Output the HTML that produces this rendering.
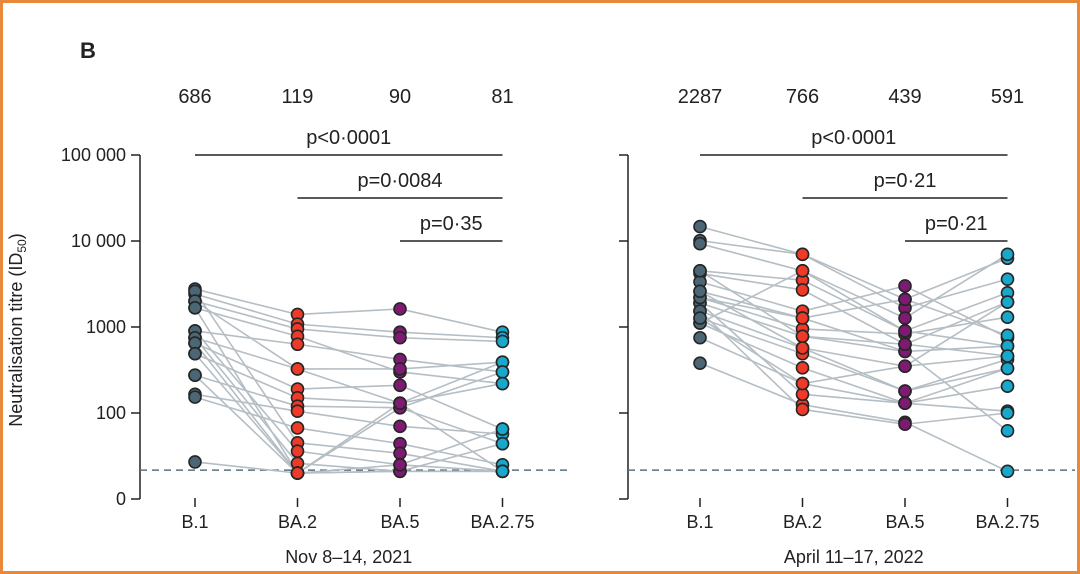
<!DOCTYPE html>
<html><head><meta charset="utf-8"><style>
html,body{margin:0;padding:0;background:#fff;}
svg{display:block;font-family:"Liberation Sans",sans-serif;}
</style></head><body>
<svg id="chart" width="1080" height="574" viewBox="0 0 1080 574">
<rect x="1.5" y="1.5" width="1077" height="571" fill="#fff" stroke="#e8883a" stroke-width="3"/>
<text x="80" y="58" font-size="22" font-weight="bold" fill="#222">B</text>
<text transform="translate(22,330) rotate(-90)" text-anchor="middle" font-size="18" fill="#222">Neutralisation titre (ID<tspan font-size="12" dy="4">50</tspan><tspan dy="-4">)</tspan></text>
<g id="g"></g>
</svg>
<script>
const variants = ["B.1","BA.2","BA.5","BA.2.75"];
const colors = ["#4b6674","#ee3a28","#7d1a72","#18a8cc"];
const panelTitles = ["Nov 8–14, 2021","April 11–17, 2022"];
const medians1 = ["686","119","90","81"];
const medians2 = ["2287","766","439","591"];
const yTickValues = [100000,10000,1000,100,10];
const yTickLabels = ["100 000","10 000","1000","100","0"];
const pLabels1 = ["p<0·0001","p=0·0084","p=0·35"];
const pLabels2 = ["p<0·0001","p=0·21","p=0·21"];
const pFrom = [0,1,2];
const limitValue = 20;
const nov2021 = [
[2760,1400,1620,870],[2420,1080,870,750],[2000,950,750,680],[1670,780,300,220],
[900,630,420,300],[750,325,325,390],[650,190,210,65],[490,150,130,390],
[275,120,115,44],[165,105,70,57],[153,67,44,25],[27,20,21,21],
[2600,45,34,21],[900,36,25,65],[750,26,21,21],[650,20,115,300],
[490,20,21,44],[275,20,25,21],[2000,325,130,21],[1670,20,130,220]];
const apr2022 = [
[14700,7000,1670,3600],[10100,7000,2100,6300],[9300,4500,1270,7000],[4500,3500,900,2500],
[4200,2700,630,1950],[3350,1530,3000,750],[2600,1270,2100,800],[2200,950,830,1300],
[1900,780,520,600],[1530,570,350,460],[1270,490,180,420],[1110,335,130,330],
[750,220,130,205],[380,125,78,21],[1900,165,130,105],[1530,110,74,100],
[2200,1270,520,62],[1110,4500,900,600],[1270,220,350,1950],[4500,780,630,460],[2600,570,180,330]];

const NS="http://www.w3.org/2000/svg";
const g=document.getElementById('g');
function el(t,a,txt){const e=document.createElementNS(NS,t);for(const k in a)e.setAttribute(k,a[k]);if(txt!==undefined)e.textContent=txt;g.appendChild(e);return e;}
function y(v){return 413-86*Math.log10(v/100);}
const panels=[{x0:195,axis:140,dashEnd:570,data:nov2021,med:medians1,p:pLabels1,labels:true},
              {x0:700,axis:628,dashEnd:1075,data:apr2022,med:medians2,p:pLabels2,labels:false}];
const dx=102.5;
panels.forEach((P,pi)=>{
  const xOf=i=>P.x0+i*dx;
  let e=el('line',{x1:P.axis,x2:P.axis,y1:y(100000),y2:y(10),stroke:'#222','stroke-width':1.5});
  
  
  yTickValues.forEach((v,i)=>{
    e=el('line',{x1:P.axis-9,x2:P.axis,y1:y(v),y2:y(v),stroke:'#222','stroke-width':1.5});
    
    
    if(P.labels){
      e=el('text',{x:P.axis-14,y:y(v)+6,'text-anchor':'end','font-size':18,fill:'#222'},yTickLabels[i]);
      
      
    }
  });
  e=el('line',{x1:P.axis,x2:P.dashEnd,y1:y(limitValue)-3,y2:y(limitValue)-3,stroke:'#5a7080','stroke-width':1.5,'stroke-dasharray':'7,5'});
  
  
  variants.forEach((v,i)=>{
    e=el('line',{x1:xOf(i),x2:xOf(i),y1:498,y2:507,stroke:'#222','stroke-width':1.5});
    
    
    e=el('text',{x:xOf(i),y:528,'text-anchor':'middle','font-size':18,fill:'#222'},v);
    
    
    e=el('text',{x:xOf(i),y:103,'text-anchor':'middle','font-size':20,fill:'#222'},P.med[i]);
    
    
  });
  e=el('text',{x:xOf(1.5),y:563,'text-anchor':'middle','font-size':18,fill:'#222'},panelTitles[pi]);
  
  
  P.p.forEach((t,k)=>{
    const yy=y(100000)+43*k;
    e=el('line',{x1:xOf(pFrom[k]),x2:xOf(3),y1:yy,y2:yy,stroke:'#222','stroke-width':1.5});
    
    
    e=el('text',{x:(xOf(pFrom[k])+xOf(3))/2,y:yy-11,'text-anchor':'middle','font-size':20,fill:'#222'},t);
    
    
  });
  P.data.forEach(row=>{
    const pts=row.map((v,i)=>xOf(i)+','+y(v)).join(' ');
    e=el('polyline',{points:pts,fill:'none',stroke:'#b5bec4','stroke-width':1.6});
    
    
  });
  P.data.forEach(row=>{
    row.forEach((v,i)=>{
      e=el('circle',{cx:xOf(i),cy:y(v),r:6,fill:colors[i],stroke:'#262626','stroke-width':1.6});
      
      
    });
  });
});
</script>
</body></html>
